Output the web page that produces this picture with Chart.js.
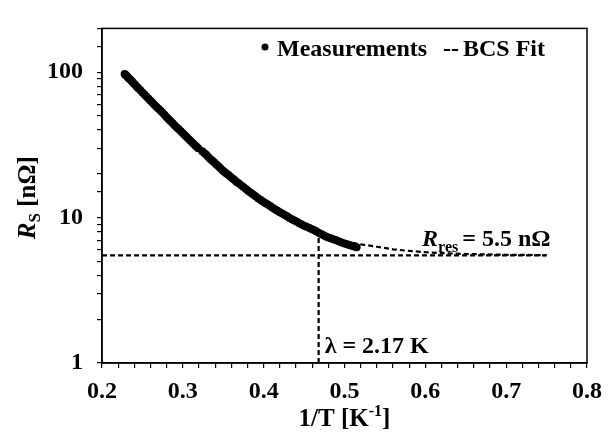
<!DOCTYPE html>
<html>
<head>
<meta charset="utf-8">
<script src="https://cdn.jsdelivr.net/npm/chart.js@4/dist/chart.umd.min.js"></script>
<style>
  html, body { margin: 0; padding: 0; background: #fff; }
  #wrap { width: 611px; height: 436px; position: relative; }
</style>
</head>
<body>
<div id="wrap"><canvas id="rsChart"></canvas></div>
<script>
// --- Data ---
const measX = [0.228, 0.229, 0.230, 0.2315, 0.233, 0.2345, 0.236, 0.2375, 0.239, 0.241,
               0.243, 0.245, 0.2475, 0.250, 0.2525, 0.255, 0.2575, 0.260, 0.2625, 0.265,
               0.2675, 0.270, 0.2725, 0.275, 0.2775, 0.280, 0.2825, 0.285, 0.2875, 0.290,
               0.2925, 0.295, 0.2975, 0.300, 0.3025, 0.305, 0.3075, 0.310, 0.3125, 0.315,
               0.317, 0.319, 0.324, 0.3265, 0.329, 0.3315, 0.334, 0.3365, 0.339, 0.3415,
               0.344, 0.3465, 0.349, 0.3515, 0.354, 0.3565, 0.359, 0.3615, 0.364, 0.3665,
               0.369, 0.372, 0.375, 0.378, 0.381, 0.384, 0.387, 0.390, 0.393, 0.396,
               0.399, 0.402, 0.405, 0.408, 0.411, 0.414, 0.417, 0.420, 0.423, 0.426,
               0.429, 0.432, 0.435, 0.438, 0.441, 0.444, 0.447, 0.450, 0.453, 0.456,
               0.459, 0.462, 0.465, 0.468, 0.471, 0.474, 0.477, 0.480, 0.483, 0.486,
               0.489, 0.492, 0.495, 0.498, 0.501, 0.504, 0.507, 0.510, 0.513, 0.515];
const measR = [97, 96, 95, 93, 91, 89.5, 87.5, 86, 84, 82,
               79.5, 77.5, 75, 72.5, 70.2, 68, 65.7, 63.5, 61.5, 59.5,
               57.7, 56, 54.2, 52.5, 50.7, 49, 47.5, 46, 44.5, 43,
               41.7, 40.5, 39.2, 38, 36.8, 35.7, 34.6, 33.5, 32.5, 31.5,
               30.7, 30, 28.6, 27.8, 27, 26.1, 25.3, 24.6, 23.9, 23.2,
               22.5, 21.8, 21.2, 20.6, 20.1, 19.6, 19.1, 18.6, 18.1, 17.6,
               17.2, 16.7, 16.2, 15.7, 15.25, 14.8, 14.4, 14, 13.6, 13.25,
               12.9, 12.6, 12.3, 12, 11.7, 11.4, 11.15, 10.9, 10.65, 10.4,
               10.2, 9.95, 9.75, 9.55, 9.35, 9.15, 8.95, 8.8, 8.65, 8.5,
               8.35, 8.2, 8.05, 7.85, 7.7, 7.55, 7.4, 7.3, 7.2, 7.1,
               7.0, 6.9, 6.8, 6.7, 6.6, 6.52, 6.45, 6.37, 6.3, 6.25];

const fitX = [0.500, 0.520, 0.540, 0.560, 0.580, 0.600, 0.620, 0.650, 0.700, 0.750];
const fitR = [6.85, 6.55, 6.30, 6.05, 5.90, 5.78, 5.70, 5.62, 5.55, 5.52];

const RRES = 5.5;
const resLineX = [0.2, 0.75];
const LAMBDA_X = 0.468;
const lambdaLineR = [1, 7.9];

const xMajorTicks = [0.2, 0.3, 0.4, 0.5, 0.6, 0.7, 0.8];
const yTickLabels = [1, 10, 100];

const SERIF = '"Liberation Serif", "Times New Roman", serif';
const DASH = [5, 3];

const toPts = (xs, ys) => xs.map((x, i) => ({ x: x, y: ys[i] }));

// frame, legend, annotations and axis titles
const decorPlugin = {
    id: 'decor',
    afterDraw(chart) {
        const { ctx, chartArea: a, scales } = chart;
        ctx.save();
        ctx.strokeStyle = '#000';
        ctx.lineWidth = 1.5;
        ctx.strokeRect(a.left, a.top, a.right - a.left, a.bottom - a.top);

        ctx.fillStyle = '#000';
        ctx.textBaseline = 'alphabetic';
        ctx.textAlign = 'left';

        // legend
        ctx.beginPath();
        ctx.arc(265, 47, 3.5, 0, Math.PI * 2);
        ctx.fill();
        ctx.font = 'bold 24px ' + SERIF;
        ctx.fillText('Measurements', 277, 56);
        ctx.fillText('--', 443, 56);
        ctx.fillText('BCS Fit', 463, 56);

        // R_res annotation
        let x = scales.x.getPixelForValue(0.596);
        let y = scales.y.getPixelForValue(6.35);
        ctx.font = 'italic bold 24px ' + SERIF;
        ctx.fillText('R', x, y);
        x += ctx.measureText('R').width;
        ctx.font = 'bold 16px ' + SERIF;
        ctx.fillText('res', x, y + 6);
        x += ctx.measureText('res').width + 4;
        ctx.font = 'bold 24px ' + SERIF;
        ctx.fillText('= ' + RRES + ' n\u03A9', x, y);

        // lambda annotation
        x = scales.x.getPixelForValue(LAMBDA_X) + 6;
        y = scales.y.getPixelForValue(1) - 10;
        ctx.fillText('\u03BB = 2.17 K', x, y);

        // x title
        const p1 = '1/T [K', p3 = ']';
        ctx.font = 'bold 16px ' + SERIF;
        const w2 = ctx.measureText('-1').width;
        ctx.font = 'bold 25px ' + SERIF;
        const w1 = ctx.measureText(p1).width, w3 = ctx.measureText(p3).width;
        x = (a.left + a.right) / 2 - (w1 + w2 + w3) / 2;
        y = 426;
        ctx.fillText(p1, x, y);
        ctx.font = 'bold 16px ' + SERIF;
        ctx.fillText('-1', x + w1, y - 10);
        ctx.font = 'bold 25px ' + SERIF;
        ctx.fillText(p3, x + w1 + w2, y);

        // y title (rotated)
        ctx.translate(35, (a.top + a.bottom) / 2 + 2);
        ctx.rotate(-Math.PI / 2);
        ctx.font = 'italic bold 25px ' + SERIF;
        const wr = ctx.measureText('R').width;
        ctx.font = 'bold 17px ' + SERIF;
        const ws = ctx.measureText('S').width;
        ctx.font = 'bold 25px ' + SERIF;
        const wu = ctx.measureText(' [n\u03A9]').width;
        x = -(wr + ws + wu) / 2;
        ctx.font = 'italic bold 25px ' + SERIF;
        ctx.fillText('R', x, 0);
        ctx.font = 'bold 17px ' + SERIF;
        ctx.fillText('S', x + wr, 5);
        ctx.font = 'bold 25px ' + SERIF;
        ctx.fillText(' [n\u03A9]', x + wr + ws, 0);
        ctx.restore();
    }
};

const lineDs = (pts) => ({
    type: 'scatter', data: pts, showLine: true, fill: false,
    borderColor: '#000', borderWidth: 2.2, borderDash: DASH,
    pointRadius: 0, pointHoverRadius: 0
});

new Chart(document.getElementById('rsChart').getContext('2d'), {
    type: 'scatter',
    data: {
        datasets: [
            { data: toPts(measX, measR), backgroundColor: '#000', borderColor: '#000', pointRadius: 4, pointBorderWidth: 0 },
            lineDs(toPts(fitX, fitR)),
            lineDs(toPts(resLineX, resLineX.map(() => RRES))),
            lineDs(toPts([LAMBDA_X, LAMBDA_X], lambdaLineR))
        ]
    },
    options: {
        responsive: true,
        maintainAspectRatio: false,
        animation: false,
        events: [],
        layout: { padding: { top: 7, right: 20, left: 0, bottom: 0 } },
        plugins: { legend: { display: false }, tooltip: { enabled: false } },
        scales: {
            x: {
                type: 'linear', min: 0.2, max: 0.8,
                afterFit: (s) => { s.height = 73; },
                afterBuildTicks: (s) => {
                    const t = [];
                    for (let i = 0; i <= 30; i++) t.push({ value: +(0.2 + i * 0.02).toFixed(2) });
                    s.ticks = t;
                },
                grid: { drawOnChartArea: false, drawTicks: true, tickLength: 5, color: '#000', lineWidth: 1.2 },
                border: { color: '#000', width: 1.5 },
                ticks: {
                    autoSkip: false, maxRotation: 0, padding: 9, color: '#000',
                    font: { family: SERIF, size: 24, weight: 'bold' },
                    callback: (v) => xMajorTicks.some(m => Math.abs(m - v) < 1e-6) ? v.toFixed(1) : ''
                }
            },
            y: {
                type: 'logarithmic', min: 1, max: 200,
                afterFit: (s) => { s.width = 102; },
                grid: { drawOnChartArea: false, drawTicks: true, tickLength: 5, color: '#000', lineWidth: 1.2 },
                border: { color: '#000', width: 1.5 },
                ticks: {
                    autoSkip: false, padding: 14, color: '#000',
                    font: { family: SERIF, size: 24, weight: 'bold' },
                    callback: (v) => yTickLabels.includes(v) ? String(v) : ''
                }
            }
        }
    },
    plugins: [decorPlugin]
});
</script>
</body>
</html>
